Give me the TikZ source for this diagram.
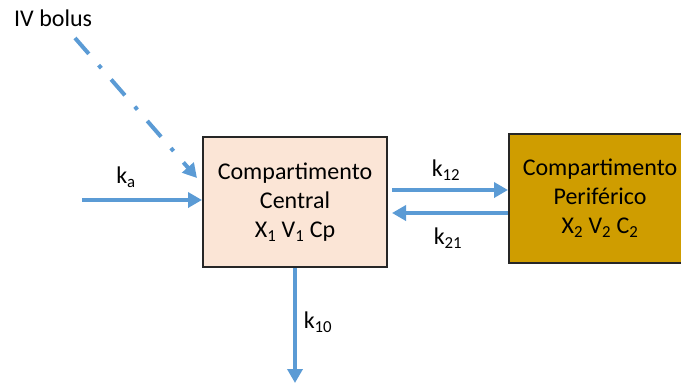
\documentclass[tikz,border=0pt]{standalone}
\usepackage{fontspec}
\setmainfont{Carlito}
\usetikzlibrary{arrows.meta}
\definecolor{arrblue}{HTML}{5B9BD5}
\definecolor{centralfill}{HTML}{FBE5D6}
\definecolor{perifill}{HTML}{CF9D00}
\definecolor{boxline}{HTML}{262626}
\begin{document}
\begin{tikzpicture}[x=1pt,y=-1pt,
  every node/.style={font=\fontsize{24}{29}\selectfont},
  comp/.style={draw=boxline,line width=2pt,align=center,inner sep=0pt,minimum width=#1},
  arr/.style={draw=arrblue,line width=4pt,-{Triangle[length=14pt,width=15pt]}},
  lbl/.style={inner sep=0pt}]
\useasboundingbox (0,0) rectangle (681,383);
\clip (0,0) rectangle (681,383);
\node[comp=184pt,minimum height=130pt,fill=centralfill] (central) at (295,202)
  {Compartimento\\Central\\X\textsubscript{1} V\textsubscript{1} Cp};
\node[comp=182pt,minimum height=129pt,fill=perifill] (peri) at (600,198.5)
  {Compartimento\\Periférico\\X\textsubscript{2} V\textsubscript{2} C\textsubscript{2}};
\node[lbl,anchor=west] (iv) at (14,18) {IV bolus};
\coordinate (bolusS) at (75,38);
\coordinate (bolusE) at (197,178);
\coordinate (kaS) at (82,200);
\coordinate (k10E) at (295,383);
\draw[arr,dash pattern=on 21pt off 15pt on 4pt off 15pt] (bolusS) -- (bolusE);
\draw[arr] (kaS) -- (kaS -| central.west);
\draw[arr] (central.south) -- (k10E);
\draw[arr,shorten <=4pt] (central.east |- 0,190) -- (peri.west |- 0,190);
\draw[arr,shorten >=4pt] (peri.west |- 0,213) -- (central.east |- 0,213);
\node[lbl] (ka) at (126,177) {k\textsubscript{a}};
\node[lbl] (k12) at (446,170) {k\textsubscript{12}};
\node[lbl] (k21) at (448,238) {k\textsubscript{21}};
\node[lbl] (k10) at (318,322) {k\textsubscript{10}};
\end{tikzpicture}
\end{document}
